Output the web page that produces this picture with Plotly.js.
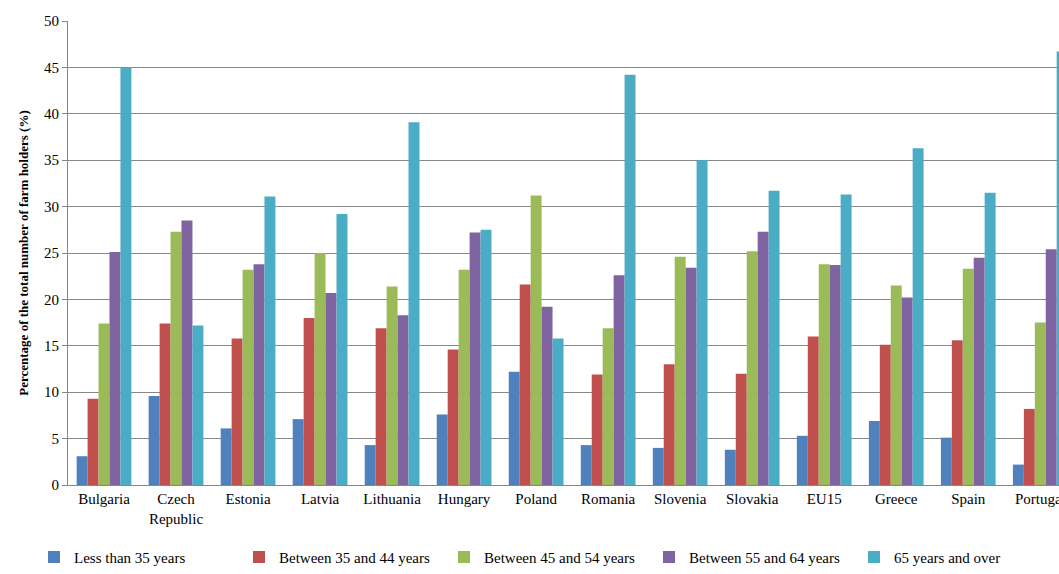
<!DOCTYPE html>
<html><head><meta charset="utf-8">
<script src="https://cdn.plot.ly/plotly-3.0.1.min.js"></script>
<style>body{margin:0}</style></head><body>
<div id="c" style="width:1059px;height:574px"></div>
<script>
const categories=["Bulgaria","Czech<br>Republic","Estonia","Latvia","Lithuania","Hungary","Poland","Romania","Slovenia","Slovakia","EU15","Greece","Spain","Portugal"];
const seriesNames=["Less than 35 years","Between 35 and 44 years","Between 45 and 54 years","Between 55 and 64 years","65 years and over"];
const lt35=[3.1,9.6,6.1,7.1,4.3,7.6,12.2,4.3,4.0,3.8,5.3,6.9,5.1,2.2];
const y35_44=[9.3,17.4,15.8,18.0,16.9,14.6,21.6,11.9,13.0,12.0,16.0,15.1,15.6,8.2];
const y45_54=[17.4,27.3,23.2,25.0,21.4,23.2,31.2,16.9,24.6,25.2,23.8,21.5,23.3,17.5];
const y55_64=[25.1,28.5,23.8,20.7,18.3,27.2,19.2,22.6,23.4,27.3,23.7,20.2,24.5,25.4];
const y65=[45.0,17.2,31.1,29.2,39.1,27.5,15.8,44.2,35.0,31.7,31.3,36.3,31.5,46.7];
const colors=["#4f81bd","#c0504d","#9bbb59","#8064a2","#4bacc6"];
const idx=categories.map((c,j)=>j);
const data=[lt35,y35_44,y45_54,y55_64,y65].map((v,i)=>({type:"bar",x:idx,y:v,name:seriesNames[i],marker:{color:colors[i]}}));
const last=categories.length-1;
Plotly.newPlot("c",data,{
 width:1059,height:574,margin:{l:68,r:0,t:21,b:70},
 font:{family:"Liberation Serif",size:15,color:"#000"},
 bargap:0.24,bargroupgap:0,
 xaxis:{range:[-0.5,13.26],tickmode:"array",tickvals:idx.slice(0,last),ticktext:categories.slice(0,last),showline:true,linecolor:"#888",ticks:"",tickfont:{size:15}},
 yaxis:{range:[0,50],dtick:5,showgrid:true,gridcolor:"#888",showline:true,linecolor:"#888",ticks:"outside",ticklen:5,tickcolor:"#888",tickfont:{size:15},
  title:{text:"<b>Percentage of the total number of farm holders (%)</b>",font:{size:13},standoff:12}},
 annotations:[{x:last,y:0,xref:"x",yref:"y",text:categories[last],showarrow:false,yanchor:"top",yshift:-4,font:{size:15}}],
 legend:{orientation:"h",x:-0.01,y:-0.12,xanchor:"left",yanchor:"top",entrywidth:160,itemwidth:30,font:{size:15}},
 showlegend:true
},{displayModeBar:false});
</script></body></html>
